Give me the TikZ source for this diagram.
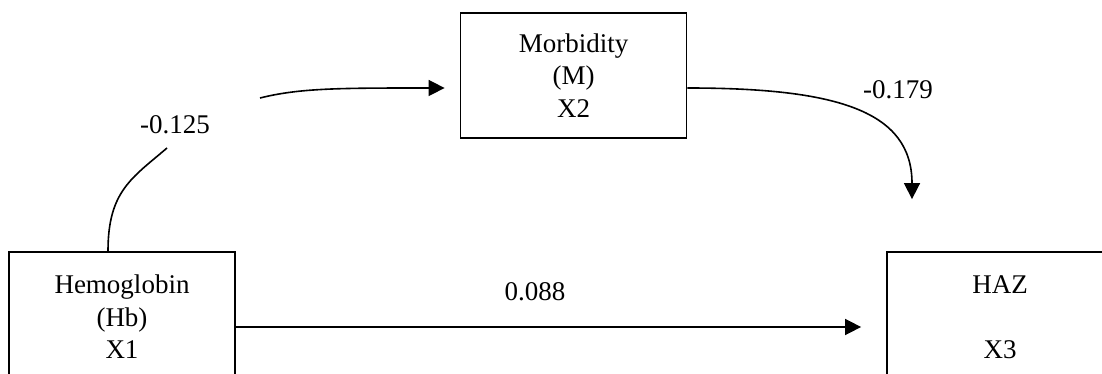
\documentclass[tikz,border=0pt]{standalone}
\usepackage{fontspec}
\setmainfont{Liberation Serif}
\usetikzlibrary{arrows.meta,positioning}
\tikzset{
  box/.style={draw, line width=1.8pt, align=center, inner sep=0pt,
              minimum width=226pt, font=\fontsize{27}{32.5}\selectfont},
  link/.style={line width=1.6pt},
  flow/.style={-{Triangle[length=16pt,width=16pt]}, line width=1.6pt},
  coef/.style={font=\fontsize{27}{32.5}\selectfont},
}
\begin{document}
\begin{tikzpicture}[x=1pt,y=-1pt]
  \clip (0,0) rectangle (1102,374);

  \node[box, minimum height=130pt] (hb) at (122,317) {Hemoglobin\\(Hb)\\X1};
  \node[box, minimum height=125pt] (m) at (573.5,75.5) {Morbidity\\(M)\\X2};
  \node[box, minimum height=130pt] (haz) at (1000,317) {HAZ\\~\\X3};

  \coordinate (c1) at (167,148);
  \coordinate (c2) at (260,98);

  \draw[link] ([xshift=-14pt]hb.north) .. controls +(0,-60) and +(-35,30) .. (c1);
  \draw[flow, shorten >=15pt] (c2) .. controls +(40,-10) and +(-120,0) .. ([yshift=-12.5pt]m.west);
  \draw[flow, shorten >=52pt] ([yshift=-12.5pt]m.east) .. controls +(150,0) and +(0,-140) .. ([xshift=-88pt]haz.north);
  \draw[flow, shorten >=25pt] ([yshift=-10pt]hb.east) -- ([yshift=-10pt]haz.west);

  \node[coef] (b12) at (175,125) {-0.125};
  \node[coef] (b23) at (898,90) {-0.179};
  \node[coef] (b13) at (535,292) {0.088};
\end{tikzpicture}
\end{document}
